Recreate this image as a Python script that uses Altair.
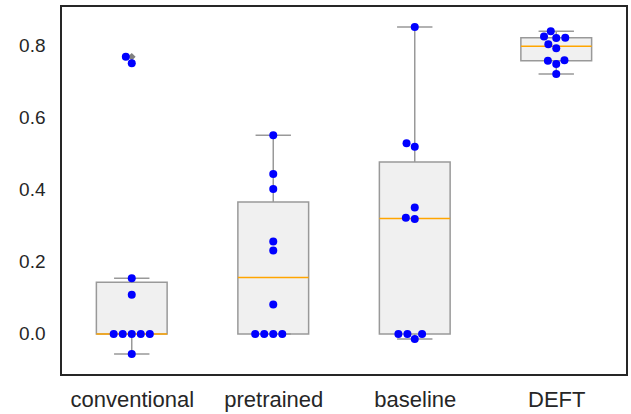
import json
import altair as alt
import numpy as np
import pandas as pd

# ---- data ----
categories = ["conventional", "pretrained", "baseline", "DEFT"]
conventional = [0.770, 0.752, 0.155, 0.109, 0.0, 0.0, 0.0, 0.0, 0.0, -0.056]
pretrained = [0.552, 0.444, 0.403, 0.257, 0.232, 0.082, 0.0, 0.0, 0.0, 0.0]
baseline = [0.853, 0.530, 0.520, 0.351, 0.323, 0.319, 0.0, 0.0, 0.0, -0.014]
deft = [0.841, 0.826, 0.823, 0.822, 0.805, 0.7935, 0.760, 0.759, 0.750, 0.722]
y_ticks = [0.0, 0.2, 0.4, 0.6, 0.8]

series = [conventional, pretrained, baseline, deft]

# ---- layout ----
W, H = 566, 369
Y_DOM = [-0.114, 0.911]
X_DOM = [-0.5, 3.5]
PX_Y = H / (Y_DOM[1] - Y_DOM[0])
PX_X = W / (X_DOM[1] - X_DOM[0])
DOT_D = 8.6


def beeswarm(vals, d):
    """seaborn-like swarm: returns x offsets in pixels."""
    ys = np.asarray(vals, dtype=float) * PX_Y
    order = np.argsort(ys, kind="stable")
    placed = []
    xs = np.zeros(len(ys))
    for k in order:
        y = ys[k]
        neigh = [(px, py) for px, py in placed if abs(py - y) < d]
        cands = [0.0]
        for px, py in neigh:
            dy = y - py
            dx = np.sqrt(max(d * d - dy * dy, 0.0)) * 1.05
            cands += [px - dx, px + dx]
        cands = sorted(cands, key=abs)
        chosen = cands[-1]
        for c in cands:
            if all((c - px) ** 2 + (y - py) ** 2 >= d * d * 0.999 for px, py in neigh):
                chosen = c
                break
        xs[k] = chosen
        placed.append((chosen, y))
    return xs


pts_rows, box_rows, flier_rows = [], [], []
for i, (cat, vals) in enumerate(zip(categories, series)):
    v = np.asarray(vals, dtype=float)
    q1, med, q3 = np.percentile(v, [25, 50, 75])
    iqr = q3 - q1
    inside = v[(v >= q1 - 1.5 * iqr) & (v <= q3 + 1.5 * iqr)]
    wlo, whi = inside.min(), inside.max()
    box_rows.append(dict(cat=cat, idx=i, lo=i - 0.25, hi=i + 0.25,
                         clo=i - 0.125, chi=i + 0.125,
                         q1=q1, med=med, q3=q3, wlo=wlo, whi=whi))
    for o in v[(v < q1 - 1.5 * iqr) | (v > q3 + 1.5 * iqr)]:
        flier_rows.append(dict(cat=cat, idx=i, value=o))
    offs = beeswarm(v, DOT_D)
    for val, off in zip(v, offs):
        pts_rows.append(dict(cat=cat, x=i + off / PX_X, value=val))

pts = pd.DataFrame(pts_rows)
boxes = pd.DataFrame(box_rows)
fliers = pd.DataFrame(flier_rows)

xs = alt.Scale(domain=X_DOM, nice=False, zero=False)
ys = alt.Scale(domain=Y_DOM, nice=False, zero=False)
label_expr = json.dumps(categories) + "[datum.value]"
x_axis = alt.Axis(values=[0, 1, 2, 3], labelExpr=label_expr, title=None,
                  grid=False, ticks=False, tickSize=0, domain=False,
                  labelFontSize=22, labelPadding=14, labelColor="#262626",
                  labelFont="Liberation Sans")
y_axis = alt.Axis(values=y_ticks, format=".1f", title=None, grid=False,
                  ticks=False, tickSize=0, domain=False, labelFontSize=19,
                  labelPadding=16, labelColor="#262626",
                  labelFont="Liberation Sans")

GREY = "#999999"

base_box = alt.Chart(boxes)
box = base_box.mark_rect(fill="#f0f0f0", stroke=GREY, strokeWidth=1.5).encode(
    x=alt.X("lo:Q", scale=xs, axis=x_axis), x2="hi:Q",
    y=alt.Y("q1:Q", scale=ys, axis=y_axis), y2="q3:Q")
whisk_hi = base_box.mark_rule(color=GREY, strokeWidth=1.5).encode(
    x=alt.X("idx:Q", scale=xs), y=alt.Y("q3:Q", scale=ys), y2="whi:Q")
whisk_lo = base_box.mark_rule(color=GREY, strokeWidth=1.5).encode(
    x=alt.X("idx:Q", scale=xs), y=alt.Y("wlo:Q", scale=ys), y2="q1:Q")
cap_hi = base_box.mark_rule(color=GREY, strokeWidth=1.5).encode(
    x=alt.X("clo:Q", scale=xs), x2="chi:Q", y=alt.Y("whi:Q", scale=ys))
cap_lo = base_box.mark_rule(color=GREY, strokeWidth=1.5).encode(
    x=alt.X("clo:Q", scale=xs), x2="chi:Q", y=alt.Y("wlo:Q", scale=ys))
median = base_box.mark_rule(color="#FFA500", strokeWidth=1.5).encode(
    x=alt.X("lo:Q", scale=xs), x2="hi:Q", y=alt.Y("med:Q", scale=ys))
flier = alt.Chart(fliers).mark_point(shape="diamond", filled=True,
                                     color="#808080", size=60, opacity=1).encode(
    x=alt.X("idx:Q", scale=xs), y=alt.Y("value:Q", scale=ys))
dots = alt.Chart(pts).mark_circle(color="#0000ff", size=64, opacity=1).encode(
    x=alt.X("x:Q", scale=xs), y=alt.Y("value:Q", scale=ys))

chart = alt.layer(box, whisk_hi, whisk_lo, cap_hi, cap_lo, median, flier, dots).properties(
    width=W, height=H,
    autosize=alt.AutoSizeParams(type="none"),
    padding={"left": 61, "top": 6, "right": 4, "bottom": 39},
    background="white",
).configure_view(stroke="#262626", strokeWidth=2)

chart.save("out.html", embed_options={"renderer": "svg", "actions": False})
